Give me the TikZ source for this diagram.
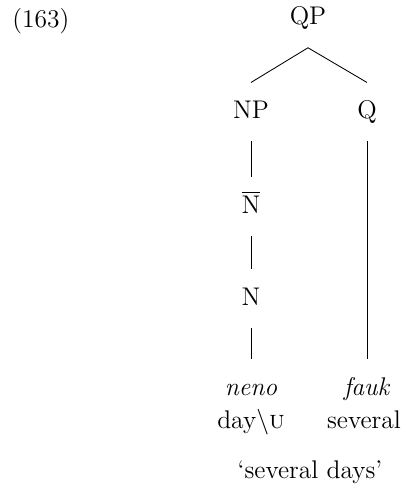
\documentclass[tikz,border=0pt]{standalone}
\usepackage{tikz}

\begin{document}
\begin{tikzpicture}[x=0.47pt, y=-0.47pt, font=\fontsize{12}{14.5}\selectfont,
    cat/.style={anchor=base, inner xsep=0pt, inner ysep=8.5pt, text height=8pt, text depth=2pt},
    gloss/.style={anchor=base, inner sep=0pt},
    branch/.style={thin, black}]
        % --- 1. Parameters ---
        \def\colL{251}
        \def\colR{367}
        \def\rowWord{395}
        \def\rowGloss{428}
        \useasboundingbox (0,0) rectangle (409,490);

        % Example number
        \node[anchor=base west, inner sep=0pt] (exnum) at (12,27) {(163)};

        % --- 2. Categories ---
        \node[cat] (qp) at (308,25) {QP};
        \node[cat] (np) at (\colL,118) {NP};
        \node[cat] (q) at (\colR,118) {Q};
        \node[cat] (nbar) at (\colL,213) {$\overline{\mathrm{N}}$};
        \node[cat] (n) at (\colL,305) {N};

        % --- 3. Words and glosses ---
        \node[cat] (neno) at (\colL,\rowWord) {\textit{neno}};
        \node[cat] (fauk) at (\colR,\rowWord) {\textit{fauk}};
        \node[gloss] (day) at (\colL,\rowGloss) {day\textbackslash\textsc{u}};
        \node[gloss] (several) at (\colR-3,\rowGloss) {several};
        \node[gloss] (transl) at (310,478) {`several days'};

        % --- 4. Branches ---
        \draw[branch] (qp.south) -- (np.north);
        \draw[branch] (qp.south) -- (q.north);
        \draw[branch] (np.south) -- (nbar.north);
        \draw[branch] (nbar.south) -- (n.north);
        \draw[branch] (n.south) -- (neno.north);
        \draw[branch] (q.south) -- (fauk.north);
\end{tikzpicture}
\end{document}
